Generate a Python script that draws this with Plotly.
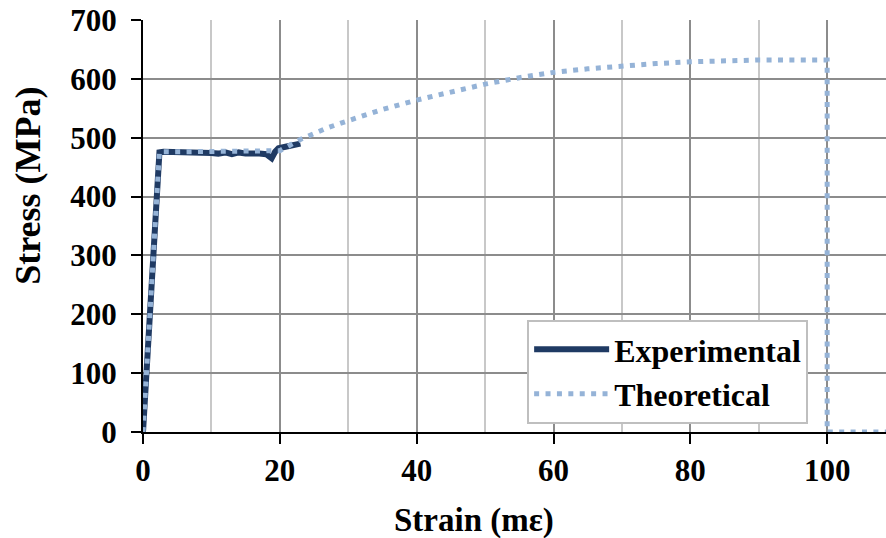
import plotly.graph_objects as go

# Experimental curve (strain in mε, stress in MPa)
exp_x = [0, 0.5, 1.0, 1.5, 2.0, 2.4, 3, 4, 5, 6, 7, 8, 9, 10, 11, 12, 13, 14, 15, 16, 17, 18, 18.8, 19.3, 19.8, 21, 22, 23]
exp_y = [0, 98, 197, 295, 395, 475, 476, 476, 475, 476, 474, 475, 476, 474, 473, 475, 472, 475, 473, 474, 473, 472, 465, 476, 482, 485, 488, 490]

# Theoretical curve
theo_x = [0, 2.4, 5, 10, 15, 20, 23, 25, 27, 30, 35, 40, 46, 50, 55, 60, 65, 70, 75, 80, 85, 90, 95, 100, 100, 108.6]
theo_y = [0, 476, 476, 476, 476, 478, 497, 508, 517, 529, 548, 564, 581, 591, 602, 611, 617, 622, 626, 629, 631, 632, 632, 632, 0, 0]

x_ticks = [0, 20, 40, 60, 80, 100]
y_ticks = [0, 100, 200, 300, 400, 500, 600, 700]

FONT = "Liberation Serif, Times New Roman, serif"

fig = go.Figure()
fig.add_trace(go.Scatter(
    x=exp_x, y=exp_y, mode="lines", name="Experimental",
    line=dict(color="#1F3A63", width=6),
))
fig.add_trace(go.Scatter(
    x=theo_x, y=theo_y, mode="lines", name="Theoretical",
    line=dict(color="#95B3D7", width=5, dash="5px,6.4px"),
))

fig.update_layout(
    width=886, height=538,
    margin=dict(l=143, r=0, t=20, b=106),
    paper_bgcolor="white", plot_bgcolor="white",
    font=dict(family=FONT, size=32, color="black", weight="bold"),
    showlegend=True,
    legend=dict(
        x=0.517, y=0.272, xanchor="left", yanchor="top",
        bgcolor="white", bordercolor="#BFBFBF", borderwidth=2,
        font=dict(family=FONT, size=32, color="black", weight="bold"),
        itemwidth=75, tracegroupgap=0,
    ),
    xaxis=dict(
        range=[0, 108.6], tickmode="array", tickvals=x_ticks,
        ticktext=[str(v) for v in x_ticks],
        showline=True, linecolor="black", linewidth=2,
        ticks="outside", ticklen=10, tickwidth=2, tickcolor="black",
        showgrid=True, gridcolor="#8C8C8C", gridwidth=2,
        minor=dict(dtick=10, tick0=0, showgrid=True, gridcolor="#C8C8C8", gridwidth=2, ticks=""),
        zeroline=False, layer="below traces",
        tickfont=dict(family=FONT, size=31, weight="bold"),
    ),
    yaxis=dict(
        range=[0, 700], tickmode="array", tickvals=y_ticks,
        ticktext=[str(v) for v in y_ticks],
        showline=True, linecolor="black", linewidth=2,
        ticks="outside", ticklen=10, tickwidth=2, tickcolor="black",
        showgrid=True, gridcolor="#8C8C8C", gridwidth=2,
        zeroline=False, layer="below traces",
        ticklabelstandoff=8,
        tickfont=dict(family=FONT, size=31, weight="bold"),
    ),
    annotations=[
        dict(text="Strain (mε)", xref="paper", yref="paper", x=0.4455, y=-0.216,
             xanchor="center", yanchor="middle", showarrow=False,
             font=dict(family=FONT, size=33, weight="bold", color="black")),
        dict(text="Stress (MPa)", xref="paper", yref="paper", x=-0.155, y=0.597,
             xanchor="center", yanchor="middle", showarrow=False, textangle=-90,
             font=dict(family=FONT, size=36, weight="bold", color="black")),
    ],
)

fig.write_html("out.html")
